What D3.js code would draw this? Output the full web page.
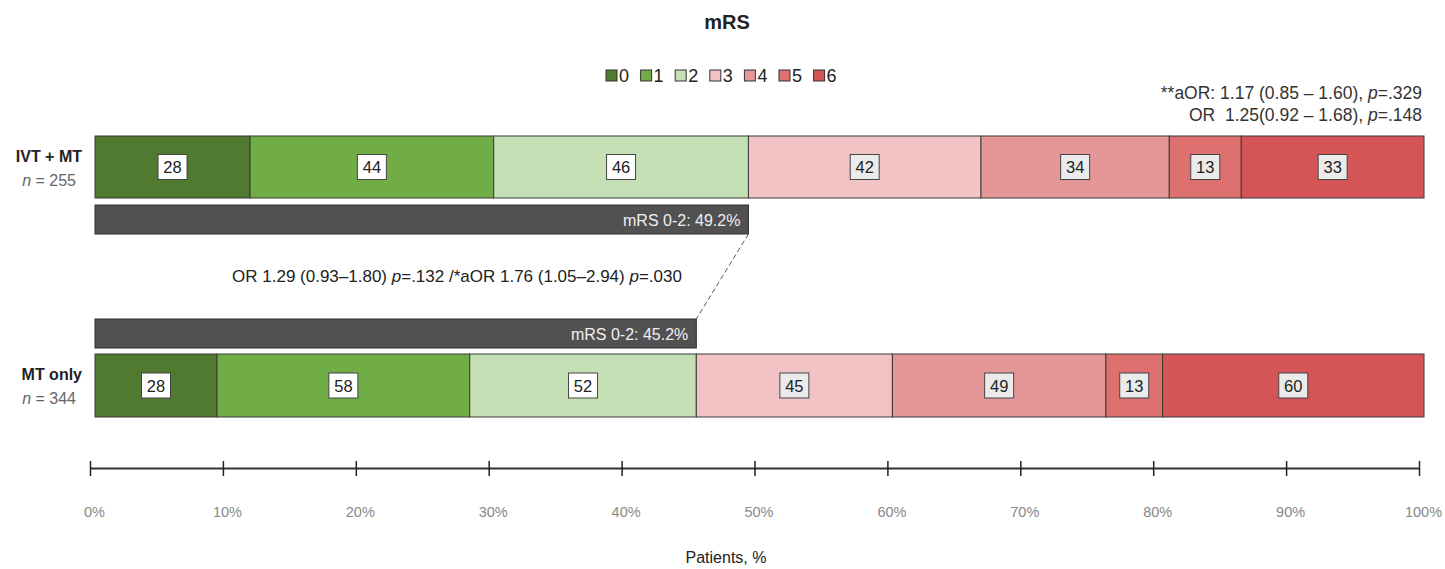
<!DOCTYPE html>
<html>
<head>
<meta charset="utf-8">
<script src="https://cdn.jsdelivr.net/npm/d3@7"></script>
<style>
  body { margin: 0; background: #fff; }
  text { font-family: "Liberation Sans", Arial, sans-serif; }
</style>
</head>
<body>
<div id="chart-area"></div>
<script>
// data
var groups = ["IVT + MT", "MT only"];
var groupN = [255, 344];
var mrsLevels = ["0", "1", "2", "3", "4", "5", "6"];
var ivtMt = [28, 44, 46, 42, 34, 13, 33];
var mtOnly = [28, 58, 52, 45, 49, 13, 60];
var goodLabels = ["mRS 0-2: 49.2%", "mRS 0-2: 45.2%"];
var tickValues = [0, 10, 20, 30, 40, 50, 60, 70, 80, 90, 100];
var colors = ["#507a2f", "#70ad47", "#c5e0b4", "#f1c3c5", "#e59797", "#de7070", "#d55557"];

var width = 1445, height = 569;
var svg = d3.select("#chart-area").append("svg")
    .attr("width", width)
    .attr("height", height);

var x = d3.scaleLinear().domain([0, 100]).range([95, 1424]);
var xAxisScale = d3.scaleLinear().domain([0, 100]).range([90, 1419]);
var color = d3.scaleOrdinal().domain(mrsLevels).range(colors);

var rows = [
    {name: groups[0], n: groupN[0], values: ivtMt, good: goodLabels[0], y: 136, h: 62, gy: 205},
    {name: groups[1], n: groupN[1], values: mtOnly, good: goodLabels[1], y: 354, h: 63, gy: 319}
];

rows.forEach(function (r) {
    var total = d3.sum(r.values);
    var cum = 0;
    r.segs = r.values.map(function (v, i) {
        var s = {level: mrsLevels[i], v: v, x0: cum / total * 100};
        cum += v;
        s.x1 = cum / total * 100;
        return s;
    });
    r.goodPct = d3.sum(r.values.slice(0, 3)) / total * 100;
});

// title
svg.append("text")
    .attr("x", 727).attr("y", 29)
    .attr("text-anchor", "middle")
    .attr("font-size", "20px").attr("font-weight", "bold")
    .attr("fill", "#222")
    .text("mRS");

// legend
var legend = svg.append("g").attr("transform", "translate(606,70)");
var li = legend.selectAll("g").data(mrsLevels).enter().append("g")
    .attr("transform", function (d, i) { return "translate(" + (i * 34.6) + ",0)"; });
li.append("rect")
    .attr("width", 11).attr("height", 11)
    .attr("fill", function (d) { return color(d); })
    .attr("stroke", "#333").attr("stroke-width", 1);
li.append("text")
    .attr("x", 13).attr("y", 12)
    .attr("font-size", "18px").attr("fill", "#222")
    .text(function (d) { return d; });

// top-right annotation
var ann = svg.append("g").attr("font-size", "17.5px").attr("fill", "#333")
    .attr("text-anchor", "end");
var a1 = ann.append("text").attr("x", 1422).attr("y", 99);
a1.append("tspan").text("**aOR: 1.17 (0.85 \u2013 1.60), ");
a1.append("tspan").attr("font-style", "italic").text("p");
a1.append("tspan").text("=.329");
var a2 = ann.append("text").attr("x", 1422).attr("y", 121);
a2.append("tspan").text("OR\u00a0 1.25(0.92 \u2013 1.68), ");
a2.append("tspan").attr("font-style", "italic").text("p");
a2.append("tspan").text("=.148");

// stacked bars
rows.forEach(function (r) {
    var g = svg.append("g");
    g.selectAll("rect.seg").data(r.segs).enter().append("rect")
        .attr("class", "seg")
        .attr("x", function (d) { return x(d.x0); })
        .attr("y", r.y)
        .attr("width", function (d) { return x(d.x1) - x(d.x0); })
        .attr("height", r.h)
        .attr("fill", function (d) { return color(d.level); })
        .attr("stroke", "#3a3a3a").attr("stroke-width", 1);

    var lab = g.selectAll("g.lab").data(r.segs).enter().append("g")
        .attr("class", "lab")
        .attr("transform", function (d) { return "translate(" + ((x(d.x0) + x(d.x1)) / 2) + "," + (r.y + r.h / 2) + ")"; });
    lab.append("rect")
        .attr("x", -14.5).attr("y", -12.5)
        .attr("width", 29).attr("height", 25)
        .attr("fill", function (d, i) { return i < 3 ? "#ffffff" : "#ebebeb"; })
        .attr("stroke", "#444").attr("stroke-width", 1);
    lab.append("text")
        .attr("text-anchor", "middle").attr("y", 6)
        .attr("font-size", "16.5px").attr("fill", "#222")
        .text(function (d) { return d.v; });

    // mRS 0-2 summary bar
    g.append("rect")
        .attr("x", x(0)).attr("y", r.gy)
        .attr("width", x(r.goodPct) - x(0)).attr("height", 29)
        .attr("fill", "#515151").attr("stroke", "#2e2e2e").attr("stroke-width", 1);
    g.append("text")
        .attr("x", x(r.goodPct) - 8).attr("y", r.gy + 20.5)
        .attr("text-anchor", "end")
        .attr("font-size", "16px").attr("fill", "#f0f0f0")
        .text(r.good);

    // group labels
    g.append("text")
        .attr("x", 82).attr("y", r.y + 26)
        .attr("text-anchor", "end")
        .attr("font-size", "16px").attr("font-weight", "bold").attr("fill", "#222")
        .text(r.name);
    var nt = g.append("text")
        .attr("x", 76).attr("y", r.y + 50)
        .attr("text-anchor", "end")
        .attr("font-size", "16px").attr("fill", "#666");
    nt.append("tspan").attr("font-style", "italic").text("n");
    nt.append("tspan").text(" = " + r.n);
});

// dashed connector between summary bars
svg.append("line")
    .attr("x1", x(rows[0].goodPct)).attr("y1", rows[0].gy + 29)
    .attr("x2", x(rows[1].goodPct)).attr("y2", rows[1].gy)
    .attr("stroke", "#555").attr("stroke-width", 1)
    .attr("stroke-dasharray", "5,3");

// OR annotation between bars
var mid = svg.append("text")
    .attr("x", 457).attr("y", 282)
    .attr("text-anchor", "middle")
    .attr("font-size", "17px").attr("fill", "#222");
mid.append("tspan").text("OR 1.29 (0.93\u20131.80) ");
mid.append("tspan").attr("font-style", "italic").text("p");
mid.append("tspan").text("=.132 /*aOR 1.76 (1.05\u20132.94) ");
mid.append("tspan").attr("font-style", "italic").text("p");
mid.append("tspan").text("=.030");

// x axis
var bottomAxis = d3.axisBottom(xAxisScale)
    .tickValues(tickValues)
    .tickSizeOuter(0)
    .tickSizeInner(8)
    .tickFormat(function (d) { return d + "%"; });
var axisG = svg.append("g")
    .attr("class", "x axis")
    .attr("transform", "translate(0,468)")
    .call(bottomAxis);
axisG.select(".domain").attr("stroke", "#333").attr("stroke-width", 2);
axisG.selectAll(".tick line")
    .attr("y1", -7).attr("y2", 8)
    .attr("stroke", "#222").attr("stroke-width", 1.5);
axisG.selectAll(".tick text")
    .attr("y", 39).attr("dy", "0.71em").attr("dx", 4)
    .attr("font-size", "14.5px").attr("fill", "#888")
    .attr("font-family", "'Liberation Sans', Arial, sans-serif");

svg.append("text")
    .attr("x", 726).attr("y", 563)
    .attr("text-anchor", "middle")
    .attr("font-size", "16px").attr("fill", "#222")
    .text("Patients, %");
</script>
</body>
</html>
